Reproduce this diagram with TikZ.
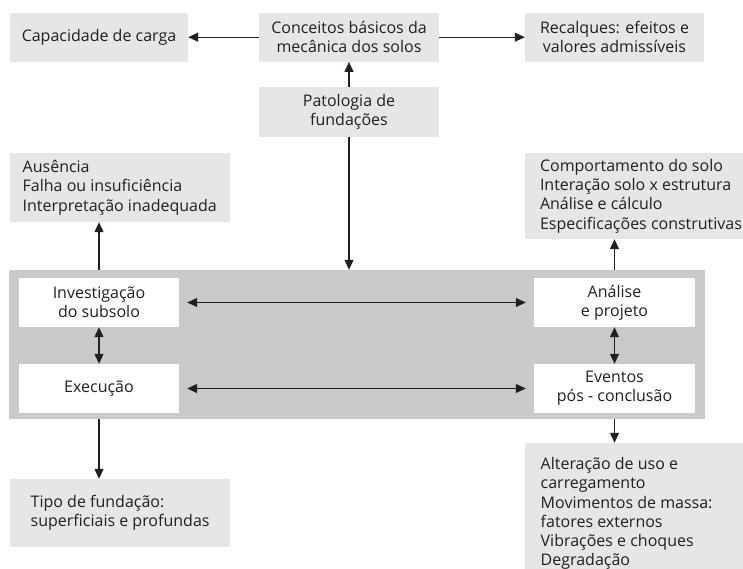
\documentclass[tikz,border=0pt]{standalone}
\usepackage{fontspec}
\setmainfont{Open Sans}
\usetikzlibrary{arrows.meta}
\definecolor{boxgray}{HTML}{E6E6E6}
\definecolor{biggray}{HTML}{C8C9CB}
\definecolor{ink}{HTML}{231F20}
\begin{document}
\begin{tikzpicture}[x=1pt,y=-1pt,
  font=\fontsize{16}{19.3}\selectfont, text=ink,
  lbox/.style={fill=boxgray, inner sep=0pt, align=center, minimum height=49pt},
  gbox/.style={fill=boxgray, inner sep=0pt},
  ltext/.style={anchor=west, inner sep=0pt, align=left},
  wbox/.style={fill=white, inner sep=0pt, align=center, minimum width=160pt, minimum height=49pt},
  arr/.style={draw=ink, line width=1.1pt, -{Triangle[length=10pt,width=9pt]}},
  darr/.style={draw=ink, line width=1.1pt, {Triangle[length=10pt,width=9pt]}-{Triangle[length=10pt,width=9pt]}}]
\useasboundingbox (0,0) rectangle (743,569);
\clip (0,0) rectangle (743,569);

% top row
\node[lbox, minimum width=178pt] (cap) at (99,37.2) {Capacidade de carga};
\node[lbox, minimum width=180pt] (con) at (349,37.2) {Conceitos básicos da\\mecânica dos solos};
\node[lbox, minimum width=179pt] (rec) at (614.5,37.2) {Recalques: efeitos e\\valores admissíveis};
\node[lbox, minimum width=180pt, minimum height=50pt] (pat) at (349,112) {Patologia de\\fundações};

% side boxes
\node[gbox, minimum width=220pt, minimum height=69pt] (aus) at (120,187.5) {};
\node[ltext] (austxt) at ([xshift=12.7pt]aus.west)
  {Ausência\\Falha ou insuficiência\\Interpretação inadequada};
\node[gbox, minimum width=240pt, minimum height=86pt] (com) at (645,196) {};
\node[ltext] (comtxt) at ([xshift=15pt]com.west)
  {Comportamento do solo\\Interação solo x estrutura\\Análise e cálculo\\Especificações construtivas};

% central block
\node[fill=biggray, inner sep=0pt, minimum width=696pt, minimum height=149pt] (big) at (357,344.5) {};
\node[wbox] (inv) at (99,302.5) {Investigação\\do subsolo};
\node[wbox, minimum width=161pt] (ana) at (614.5,302.5) {Análise\\e projeto};
\node[wbox] (exe) at (99,388.5) {Execução};
\node[wbox, minimum width=161pt] (eve) at (614.5,388.5) {Eventos\\pós - conclusão};

% bottom boxes
\node[gbox, minimum width=220pt, minimum height=68pt] (tipo) at (120,513) {};
\node[ltext] (tipotxt) at ([xshift=20.7pt]tipo.west)
  {Tipo de fundação:\\superficiais e profundas};
\node[gbox, minimum width=240pt, minimum height=141pt] (alt) at (645,513.5) {};
\node[ltext] (alttxt) at ([xshift=15.7pt]alt.west)
  {Alteração de uso e\\carregamento\\Movimentos de massa:\\fatores externos\\Vibrações e choques\\Degradação};

% connectors
\draw[arr] (con) -- (cap);
\draw[arr] (con) -- (rec);
\draw[arr] (pat) -- (con);
\draw[arr] (pat) -- (pat |- big.north);
\draw[arr] (inv |- big.north) -- (inv |- aus.south);
\draw[arr] (ana |- big.north) -- (ana |- com.south);
\draw[arr] (inv |- big.south) -- (inv |- tipo.north);
\draw[arr] (ana |- big.south) -- (ana |- alt.north);
\draw[darr] (inv) -- (exe);
\draw[darr] (ana) -- (eve);
\draw[darr, shorten <=8pt, shorten >=8pt] (inv) -- (ana);
\draw[darr, shorten <=8pt, shorten >=8pt] (exe) -- (eve);
\end{tikzpicture}
\end{document}
